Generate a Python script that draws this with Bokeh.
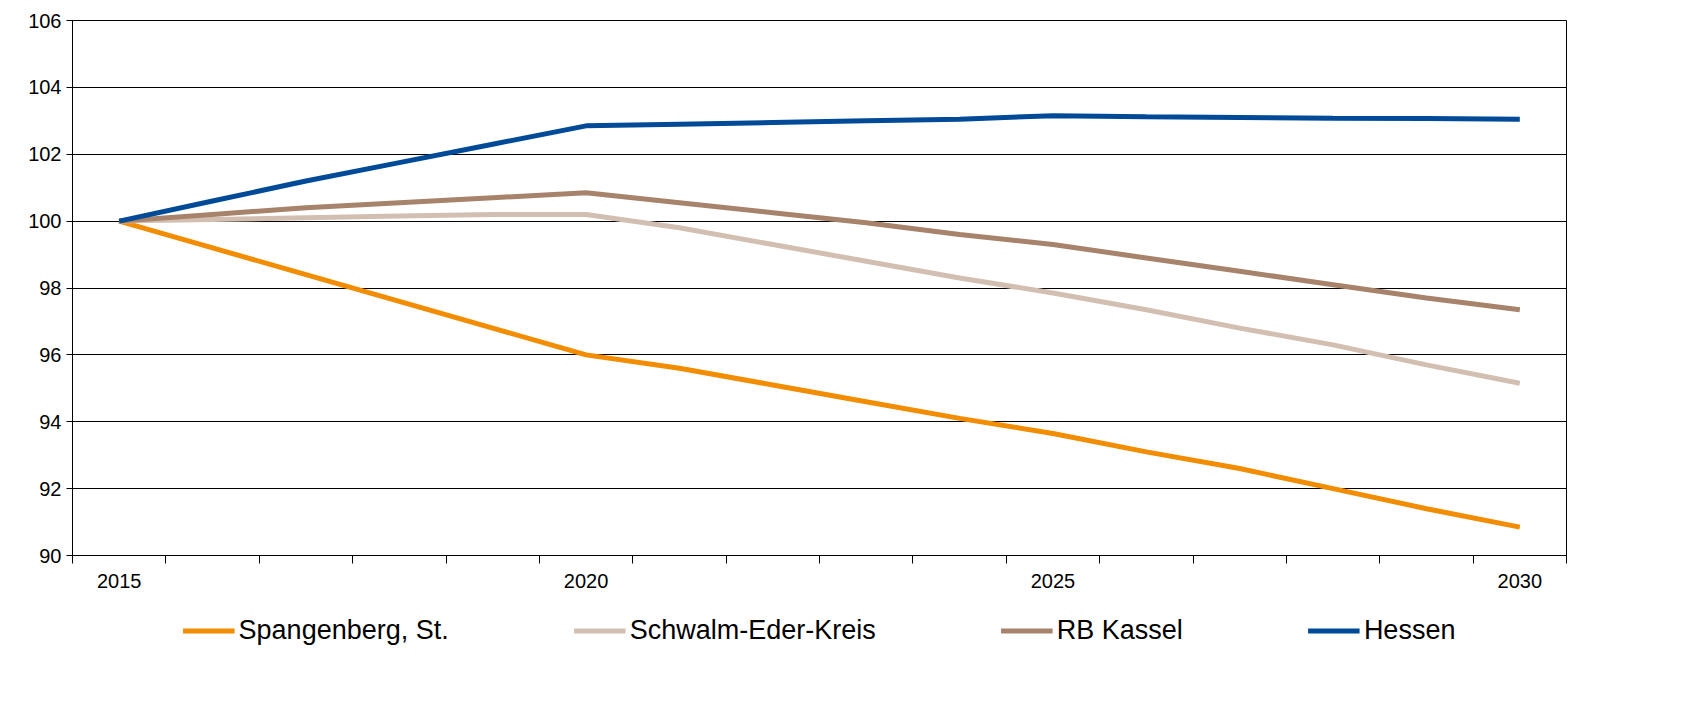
from bokeh.plotting import figure
from bokeh.models import LinearAxis, FixedTicker, Legend, Range1d
from bokeh.layouts import column
from bokeh.embed import file_html
from bokeh.resources import INLINE

years = list(range(2015, 2031))
spangenberg = [100, 99.2, 98.4, 97.6, 96.8, 96.0, 95.6, 95.1, 94.6, 94.1, 93.65, 93.1, 92.6, 92.0, 91.4, 90.85]
schwalm = [100, 100.05, 100.1, 100.15, 100.2, 100.2, 99.8, 99.3, 98.8, 98.3, 97.85, 97.35, 96.8, 96.3, 95.7, 95.15]
kassel = [100, 100.2, 100.4, 100.55, 100.7, 100.85, 100.55, 100.25, 99.95, 99.6, 99.3, 98.9, 98.5, 98.1, 97.7, 97.35]
hessen = [100, 100.6, 101.2, 101.75, 102.3, 102.85, 102.9, 102.95, 103.0, 103.05, 103.15, 103.12, 103.1, 103.08, 103.07, 103.05]
series = [("Spangenberg, St.", spangenberg, "#F28C00"),
          ("Schwalm-Eder-Kreis", schwalm, "#D3BFB2"),
          ("RB Kassel", kassel, "#A6836A"),
          ("Hessen", hessen, "#004A98")]
label_years = [2015, 2020, 2025, 2030]

bounds = [2014.5 + k for k in range(17)]
p = figure(width=1674, height=590, output_backend="svg", toolbar_location=None,
           x_range=Range1d(2014.5, 2030.5), y_range=Range1d(90, 106),
           x_axis_type=None, min_border_left=72, min_border_top=20, min_border_right=108,
           min_border_bottom=0)
p.xgrid.visible = False
p.ygrid.grid_line_color = "#000000"
p.ygrid.grid_line_width = 1
p.outline_line_color = "#000000"
p.yaxis.ticker = FixedTicker(ticks=list(range(90, 107, 2)))
p.yaxis.major_label_text_font = "Liberation Sans"
p.yaxis.major_label_text_font_size = "20px"
p.yaxis.major_label_text_color = "#000000"
p.yaxis.minor_tick_line_color = None
p.yaxis.major_tick_in = 0
p.yaxis.major_tick_out = 6
p.yaxis.axis_line_color = "#000000"

ax1 = LinearAxis(ticker=FixedTicker(ticks=bounds),
                 major_tick_in=0, major_tick_out=8, minor_tick_line_color=None,
                 major_label_overrides={b: "" for b in bounds}, axis_line_color="#000000",
                 major_label_standoff=0)
p.add_layout(ax1, "below")
ax2 = LinearAxis(ticker=FixedTicker(ticks=label_years), major_tick_line_color=None,
                 minor_tick_line_color=None, axis_line_color=None,
                 major_label_text_font="Liberation Sans", major_label_text_font_size="20px",
                 major_label_text_color="#000000", major_label_standoff=4)
p.add_layout(ax2, "below")

# legend-only strip below the chart (its lines sit outside its view)
q = figure(width=1674, height=80, output_backend="svg", toolbar_location=None,
           x_range=Range1d(0, 1), y_range=Range1d(0, 1),
           x_axis_type=None, y_axis_type=None, min_border=0)
q.outline_line_color = None
q.grid.visible = False

items = []
for name, vals, col in series:
    p.line(years, vals, line_color=col, line_width=5)
    r = q.line(years, vals, line_color=col, line_width=5)
    items.append((name, [r]))
leg = Legend(items=items, orientation="horizontal", location="center",
             label_text_font="Liberation Sans", label_text_font_size="27px",
             label_text_color="#000000", label_standoff=4, background_fill_alpha=0,
             glyph_width=52, spacing=125, border_line_color=None, padding=0, margin=0)
q.add_layout(leg, "center")

open("out.html", "w").write(file_html(column(p, q, spacing=0), INLINE))
